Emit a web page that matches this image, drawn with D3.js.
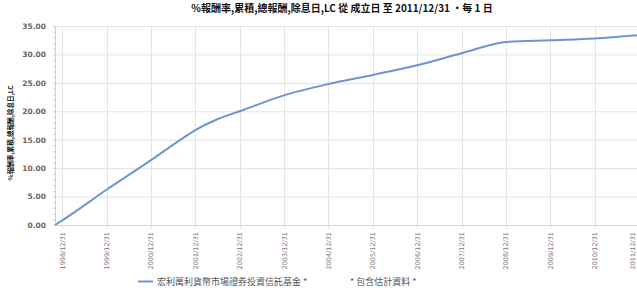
<!DOCTYPE html>
<html>
<head>
<meta charset="utf-8">
<script src="https://cdn.jsdelivr.net/npm/d3@7"></script>
<style>
  body { margin: 0; background: #fff; }
  svg { display: block; }
</style>
</head>
<body>
<script>
// cumulative total return (%)
const dates = ['1998-11-02', '1998-12-31', '1999-12-31', '2000-12-31', '2001-06-30',
    '2001-12-31', '2002-06-30', '2002-12-31', '2003-12-31', '2004-12-31',
    '2005-12-31', '2006-12-31', '2007-12-31', '2008-12-31', '2009-12-31',
    '2010-12-31', '2011-12-31'];
const returns = [0.0, 0.8, 6.2, 11.4, 14.1, 16.7, 18.6, 20.0, 22.8, 24.8,
    26.4, 28.1, 30.2, 32.2, 32.5, 32.8, 33.4];
const yTicks = [0, 5, 10, 15, 20, 25, 30, 35];
const xTickLabels = ['1998/12/31', '1999/12/31', '2000/12/31', '2001/12/31', '2002/12/31',
    '2003/12/31', '2004/12/31', '2005/12/31', '2006/12/31', '2007/12/31',
    '2008/12/31', '2009/12/31', '2010/12/31', '2011/12/31'];

const title = '%報酬率,累積,總報酬,除息日,LC 從 成立日 至 2011/12/31 •每 1 日';
const yTitle = '%報酬率,累積,總報酬,除息日,LC';
const seriesName = '宏利萬利貨幣市場證券投資信託基金 *';
const note = '* 包含估計資料 *';

const W = 637, H = 288;
const font = '"Noto Sans CJK TC", "Noto Sans", sans-serif';

const parse = d3.timeParse('%Y-%m-%d');
const parseTick = d3.timeParse('%Y/%m/%d');
const data = dates.map((d, i) => ({date: parse(d), v: returns[i]}));
const tickDates = xTickLabels.map(parseTick);

const svg = d3.select('body').append('svg')
    .attr('width', W)
    .attr('height', H)
    .style('font-family', font);

// plot area (the right end runs a little past the picture, as in the original)
const plotLeft = 55, plotTop = 26, plotBottom = 225;
const x = d3.scaleTime()
    .domain([data[0].date, tickDates[tickDates.length - 1]])
    .range([plotLeft, 639]);
const y = d3.scaleLinear()
    .domain([0, 35])
    .range([plotBottom, plotTop]);

// grid
svg.append('g')
    .selectAll('line')
    .data(yTicks)
    .join('line')
    .attr('x1', plotLeft).attr('x2', W)
    .attr('y1', d => y(d) + 0.5).attr('y2', d => y(d) + 0.5)
    .attr('stroke', '#e4e4e4');
svg.append('g')
    .selectAll('line')
    .data(tickDates)
    .join('line')
    .attr('x1', d => Math.round(x(d)) + 0.5).attr('x2', d => Math.round(x(d)) + 0.5)
    .attr('y1', plotTop).attr('y2', plotBottom + 4)
    .attr('stroke', '#e4e4e4');

// y axis
const yAxis = d3.axisLeft(y)
    .tickValues(yTicks)
    .tickFormat(d3.format('.2f'))
    .tickSize(0)
    .tickPadding(9);
svg.append('g')
    .attr('transform', 'translate(' + plotLeft + ',0)')
    .call(yAxis)
    .call(g => g.select('.domain').attr('stroke', '#cfcfcf'))
    .selectAll('text')
    .style('font-family', '"DejaVu Sans", sans-serif')
    .style('font-size', '7.5px')
    .style('font-weight', 'bold')
    .attr('fill', '#666');

// small minor ticks on the y axis
svg.append('g')
    .selectAll('line')
    .data(d3.range(0, 35.01, 1))
    .join('line')
    .attr('x1', plotLeft - 2).attr('x2', plotLeft)
    .attr('y1', d => y(d) + 0.5).attr('y2', d => y(d) + 0.5)
    .attr('stroke', '#d0d0d0');

// x axis baseline
svg.append('line')
    .attr('x1', plotLeft).attr('x2', W)
    .attr('y1', plotBottom + 0.5).attr('y2', plotBottom + 0.5)
    .attr('stroke', '#d8d8d8');

// x tick labels, rotated (last one kept just inside the edge)
svg.append('g')
    .selectAll('text')
    .data(tickDates)
    .join('text')
    .attr('transform', d => 'translate(' + Math.min(x(d) + 2.5, 635) + ',' + (plotBottom + 7) + ') rotate(-90)')
    .attr('text-anchor', 'end')
    .style('font-family', '"DejaVu Sans", sans-serif')
    .style('font-size', '6.5px')
    .attr('fill', '#777')
    .text((d, i) => xTickLabels[i]);

// line
const line = d3.line()
    .x(d => x(d.date))
    .y(d => y(d.v))
    .curve(d3.curveMonotoneX);
svg.append('path')
    .datum(data)
    .attr('d', line)
    .attr('fill', 'none')
    .attr('stroke', '#7094d2')
    .attr('stroke-width', 2);

// titles
svg.append('text')
    .attr('x', 342).attr('y', 12)
    .attr('text-anchor', 'middle')
    .style('font-size', '10px')
    .style('font-weight', 'bold')
    .attr('fill', '#111')
    .text(title);
svg.append('text')
    .attr('transform', 'translate(13,133) rotate(-90)')
    .attr('text-anchor', 'middle')
    .style('font-size', '6.6px')
    .style('font-weight', 'bold')
    .attr('fill', '#111')
    .text(yTitle);

// legend
const lg = svg.append('g').attr('transform', 'translate(138,281)');
lg.append('line')
    .attr('x1', 0).attr('x2', 15)
    .attr('y1', 0.5).attr('y2', 0.5)
    .attr('stroke', '#7094d2')
    .attr('stroke-width', 2);
lg.append('text')
    .attr('x', 19).attr('y', 3.5)
    .style('font-size', '9px')
    .attr('fill', '#555')
    .text(seriesName);
lg.append('text')
    .attr('x', 212).attr('y', 3.5)
    .style('font-size', '9px')
    .attr('fill', '#555')
    .text(note);
</script>
</body>
</html>
